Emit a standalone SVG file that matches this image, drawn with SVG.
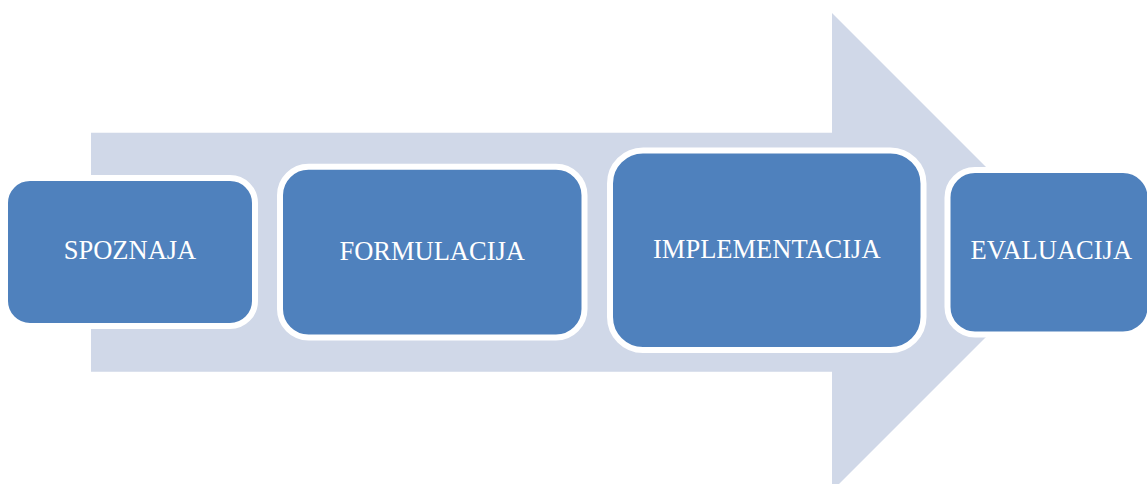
<svg xmlns="http://www.w3.org/2000/svg" width="1147" height="484" viewBox="0 0 1147 484">
  <style>
    .box { fill: #4F81BD; stroke: #FFFFFF; stroke-width: 6; }
    .lbl { font-family: "Liberation Serif", "Times New Roman", serif; font-size: 26.5px; fill: #FFFFFF; text-anchor: middle; }
  </style>
  <rect width="1147" height="484" fill="#FFFFFF"/>
  <g id="connectors">
    <polygon id="process-arrow" points="91,132.7 832,132.7 832,13 1071,252 832,491 832,371.7 91,371.7" fill="#D0D8E8"/>
  </g>
  <g id="node-spoznaja">
    <rect class="box" x="5" y="178" width="250" height="148" rx="25" ry="25"/>
    <text class="lbl" x="130" y="259.3">SPOZNAJA</text>
  </g>
  <g id="node-formulacija">
    <rect class="box" x="280" y="166.7" width="304.5" height="170.8" rx="28.5" ry="28.5"/>
    <text class="lbl" x="432.2" y="260">FORMULACIJA</text>
  </g>
  <g id="node-implementacija">
    <rect class="box" x="610" y="150.5" width="313.5" height="199.5" rx="33" ry="33"/>
    <text class="lbl" x="766.8" y="258.3">IMPLEMENTACIJA</text>
  </g>
  <g id="node-evaluacija">
    <rect class="box" x="947.5" y="170" width="203" height="164.5" rx="27.5" ry="27.5"/>
    <text class="lbl" x="1051.3" y="259.3">EVALUACIJA</text>
  </g>
</svg>
